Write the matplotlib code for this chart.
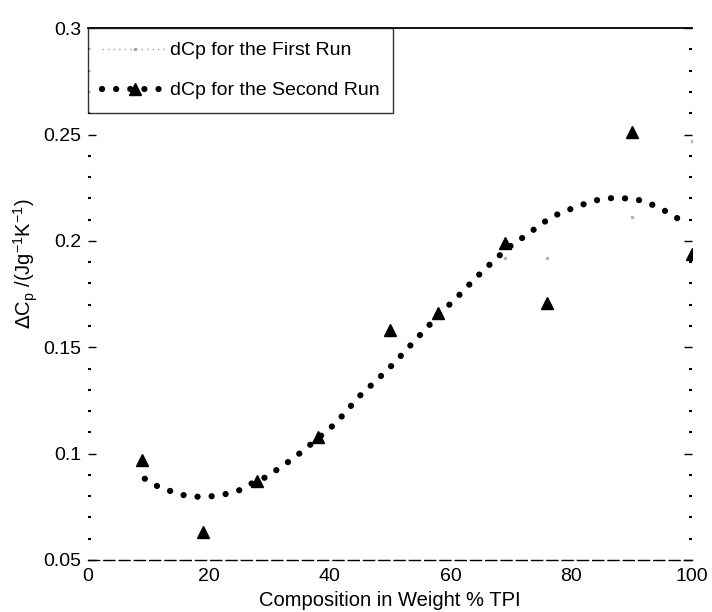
import matplotlib
matplotlib.use("Agg")
import matplotlib.pyplot as plt
from matplotlib.lines import Line2D
from matplotlib.ticker import MultipleLocator

plt.rcParams['font.family'] = ['Liberation Sans', 'DejaVu Sans']

# Second run: measured dCp at each composition (wt % TPI)
run2_x = [9, 19, 28, 38, 50, 58, 69, 76, 90, 100]
run2_y = [0.097, 0.063, 0.087, 0.108, 0.158, 0.166, 0.199, 0.171, 0.251, 0.194]

# First run: sparse, faintly printed points
run1_x = [69, 76, 90, 100]
run1_y = [0.192, 0.192, 0.211, 0.247]

# Smooth trend curve for the second run
fit_x = [9.4, 11.9, 14.1, 16.4, 18.5, 20.7, 22.8, 25.3, 27.3, 29.5, 31.8, 34.1,
         36.3, 38.2, 40.9, 42.9, 44.7, 47.4, 49.8, 52.0, 54.0, 56.5, 58.5, 60.8,
         62.9, 65.2, 67.5, 69.5, 71.9, 74.2, 76.3, 78.6, 81.0, 83.1, 85.3, 87.6,
         89.7, 91.9, 94.2, 96.5, 98.7]
fit_y = [0.0882, 0.0840, 0.0820, 0.0800, 0.0797, 0.0800, 0.0810, 0.0830, 0.0863,
         0.0890, 0.0934, 0.0980, 0.1030, 0.1075, 0.1140, 0.1203, 0.1264, 0.1335,
         0.1400, 0.1466, 0.1528, 0.1604, 0.1665, 0.1726, 0.1788, 0.1854, 0.1915,
         0.1967, 0.2014, 0.2061, 0.2104, 0.2137, 0.2160, 0.2184, 0.2198, 0.2203,
         0.2198, 0.2189, 0.2160, 0.2127, 0.2085]

x_ticks = [0, 20, 40, 60, 80, 100]
y_ticks = [0.05, 0.1, 0.15, 0.2, 0.25, 0.3]
y_tick_labels = ['0.05', '0.1', '0.15', '0.2', '0.25', '0.3']

fig = plt.figure(figsize=(7.12, 6.12), dpi=100)
ax = fig.add_axes([0.1236, 0.085, 0.8483, 0.869])

dot_style = dict(color='black', linewidth=4.5, linestyle=(0, (0.01, 2.25)),
                 dash_capstyle='round', solid_capstyle='round')

ax.plot(fit_x, fit_y, **dot_style, zorder=2)
ax.plot(run2_x, run2_y, linestyle='none', marker='^', markersize=9,
        color='black', zorder=3)
ax.plot(run1_x, run1_y, linestyle='none', marker='.', markersize=3,
        color='#b0b0b0', zorder=1)

ax.set_xlim(0, 100)
ax.set_ylim(0.05, 0.3)
ax.set_xticks(x_ticks)
ax.set_yticks(y_ticks)
ax.set_yticklabels(y_tick_labels)
ax.yaxis.set_minor_locator(MultipleLocator(0.01))

ax.tick_params(axis='both', which='major', labelsize=14, direction='in',
               width=1)
ax.tick_params(axis='x', which='major', length=0, pad=6)
ax.tick_params(axis='y', which='major', length=6, right=True, pad=5)
ax.tick_params(axis='y', which='minor', length=2, width=1.5, direction='in',
               right=True)

for side in ('left', 'right'):
    ax.spines[side].set_visible(False)
ax.spines['top'].set_linewidth(1.3)
ax.spines['bottom'].set_linewidth(1.0)
ax.spines['bottom'].set_linestyle((0, (8, 3)))

ax.set_xlabel('Composition in Weight % TPI', fontsize=14.5, labelpad=4)
ax.set_ylabel(r'$\Delta$C$_{\mathregular{p}}$ /(Jg$^{\mathregular{-1}}$K$^{\mathregular{-1}}$)',
              fontsize=14.5)
ax.yaxis.set_label_coords(-0.079, 0.556)

h1 = Line2D([], [], color='#a0a0a0', linewidth=1, linestyle=(0, (1, 3)),
            marker='.', markersize=3)
h2 = Line2D([], [], marker='^', markersize=9, **dot_style)
leg = ax.legend([h1, h2], ['dCp for the First Run', 'dCp for the Second Run'],
                loc='upper left', bbox_to_anchor=(0, 1), borderaxespad=0,
                fontsize=14, frameon=True, fancybox=False, handlelength=3.4,
                handletextpad=0.1, labelspacing=1.15, borderpad=0.7,
                numpoints=1)
leg.get_frame().set_edgecolor('black')
leg.get_frame().set_linewidth(1.0)

fig.savefig('out.png', dpi=100, facecolor='white')
